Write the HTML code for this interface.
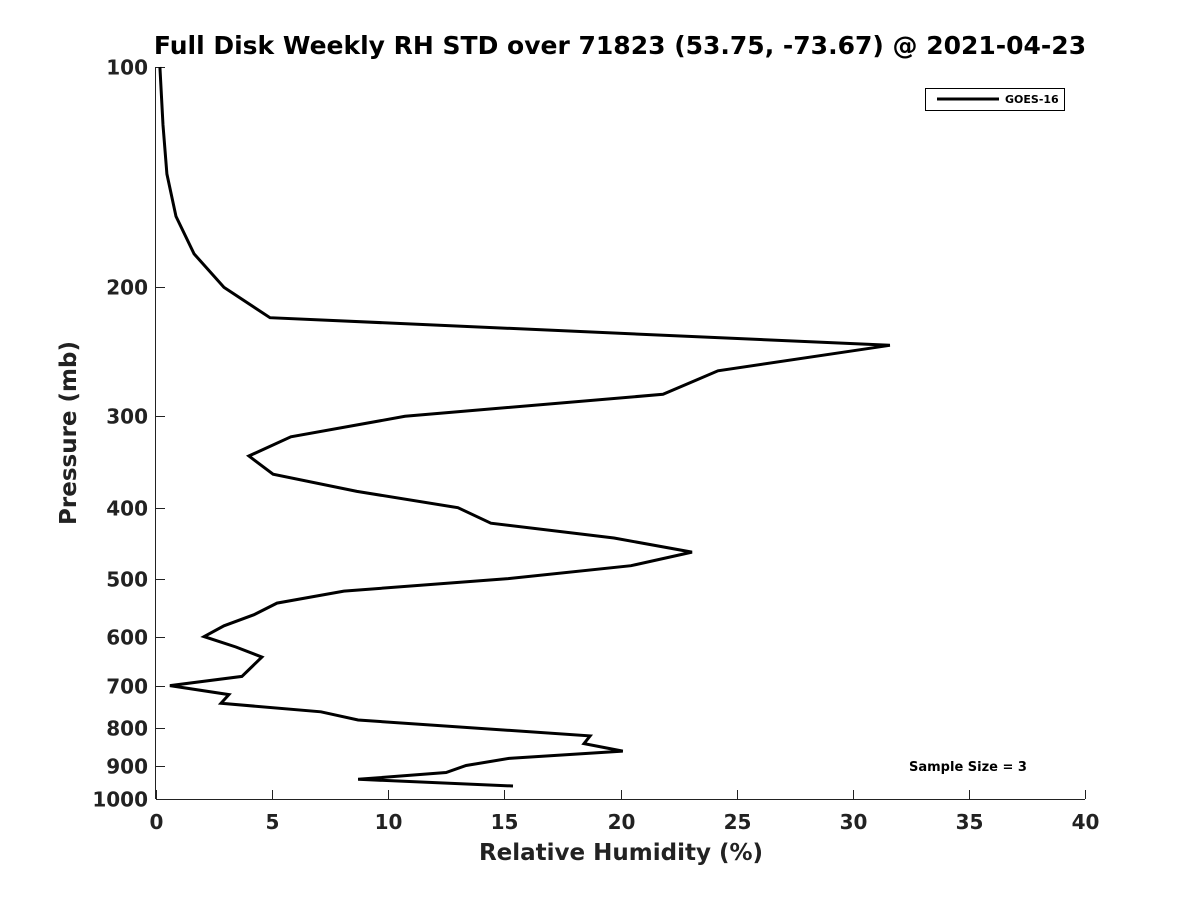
<!DOCTYPE html>
<html><head><meta charset="utf-8">
<style>
html,body{margin:0;padding:0;background:#fff;}
svg{display:block;font-family:"DejaVu Sans","Liberation Sans",sans-serif;}
</style></head>
<body>
<svg id="chart" width="1200" height="900" viewBox="0 0 1200 900">
<rect width="1200" height="900" fill="#fff"/>
<text x="620" y="54" text-anchor="middle" font-size="25" font-weight="bold" fill="#000">Full Disk Weekly RH STD over 71823 (53.75, -73.67) @ 2021-04-23</text>
<g id="axes"></g>
<g id="series"></g>
<g>
<rect x="925.5" y="88.5" width="139" height="22" fill="#fff" stroke="#000" stroke-width="1"/>
<line x1="937" y1="99" x2="999" y2="99" stroke="#000" stroke-width="3"/>
<text x="1005" y="103" font-size="11" font-weight="bold" fill="#000">GOES-16</text>
</g>
<text x="968" y="771" text-anchor="middle" font-size="13" font-weight="bold" fill="#000">Sample Size = 3</text>
<text x="621" y="860" text-anchor="middle" font-size="23" font-weight="bold" fill="#222">Relative Humidity (%)</text>
<text transform="translate(76,433) rotate(-90)" text-anchor="middle" font-size="23" font-weight="bold" fill="#222">Pressure (mb)</text>
</svg>
<script>
const pressures = [100,120,140,160,180,200,220,240,260,280,300,320,340,360,380,400,420,440,460,480,500,520,540,560,580,600,620,640,680,700,720,740,760,780,820,840,860,880,900,920,940,960];
const rhStd = [0.17,0.3,0.47,0.86,1.64,2.93,4.91,31.6,24.2,21.83,10.72,5.81,4.0,5.04,8.65,13.0,14.42,19.72,23.08,20.45,15.16,8.09,5.21,4.22,2.93,2.07,3.44,4.56,3.70,0.6,3.14,2.8,7.1,8.7,18.69,18.43,20.1,15.2,13.35,12.49,8.7,15.37];
const xTicks = [0,5,10,15,20,25,30,35,40];
const yTicks = [100,200,300,400,500,600,700,800,900,1000];

const X0=156, X1=1085, Y0=67, Y1=799;
function xs(v){return X0+(v-0)/(40-0)*(X1-X0);}
function ys(p){return Y0+(Math.log10(p)-2)/(1)*(Y1-Y0);}
const NS="http://www.w3.org/2000/svg";
const axes=document.getElementById('axes');
function mk(tag,attrs,parent){const e=document.createElementNS(NS,tag);for(const k in attrs)e.setAttribute(k,attrs[k]);parent.appendChild(e);return e;}

const xAxis=mk('line',{x1:X0,y1:Y1+0.5,x2:X1,y2:Y1+0.5,stroke:'#222','stroke-width':1},axes);


const yAxis=mk('line',{x1:X0-0.5,y1:Y0,x2:X0-0.5,y2:Y1,stroke:'#222','stroke-width':1},axes);



xTicks.forEach(t=>{
  const x=Math.round(xs(t))+0.5;
  const tk=mk('line',{x1:x,y1:Y1,x2:x,y2:Y1-9,stroke:'#222','stroke-width':1},axes);
  
  
  const lb=mk('text',{x:x,y:Y1+30,'text-anchor':'middle','font-size':20,'font-weight':'bold',fill:'#222'},axes);
  lb.textContent=t;
  
  
});
yTicks.forEach(t=>{
  const y=Math.round(ys(t))+0.5;
  const tk=mk('line',{x1:X0,y1:y,x2:X0+9,y2:y,stroke:'#222','stroke-width':1},axes);
  
  
  const lb=mk('text',{x:X0-8,y:y+7,'text-anchor':'end','font-size':20,'font-weight':'bold',fill:'#222'},axes);
  lb.textContent=t;
  
  
});

const pts=pressures.map((p,i)=>xs(rhStd[i]).toFixed(1)+','+ys(p).toFixed(1)).join(' ');
const line=mk('polyline',{points:pts,fill:'none',stroke:'#000','stroke-width':3,'stroke-linejoin':'miter'},document.getElementById('series'));


</script>
</body></html>
